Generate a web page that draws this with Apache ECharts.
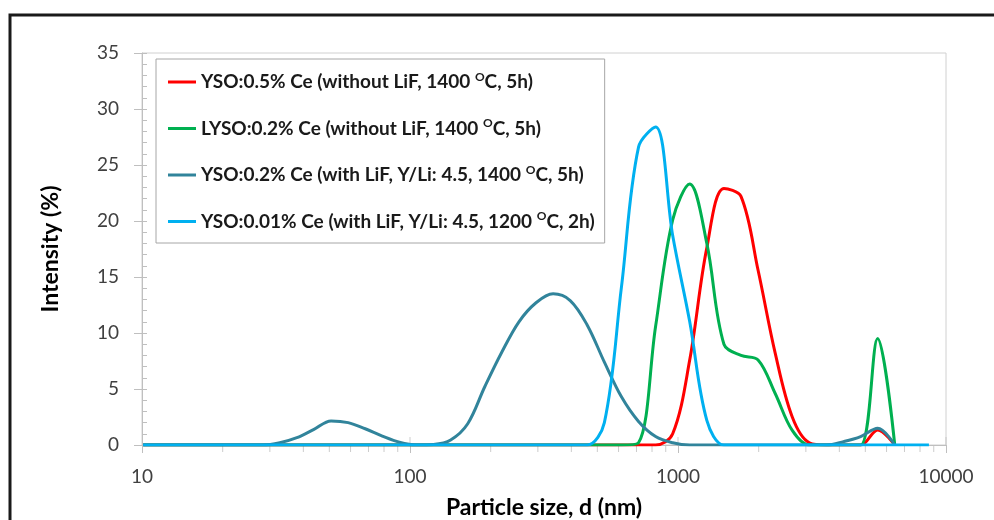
<!DOCTYPE html>
<html>
<head>
<meta charset="utf-8">
<script src="https://cdn.jsdelivr.net/npm/echarts@6/dist/echarts.min.js"></script>
<style>
  html, body { margin: 0; padding: 0; background: #fff; }
  #chart { width: 994px; height: 520px; }
</style>
</head>
<body>
<div id="chart"></div>
<script>
// size bins (nm)
var sizeBins = [10.1, 11.7, 13.54, 15.69, 18.17, 21.04, 24.36, 28.21, 32.67, 37.84,
  43.82, 50.75, 58.77, 68.06, 78.82, 91.28, 105.7, 122.4, 141.8, 164.2,
  190.1, 220.2, 255.0, 295.3, 342.0, 396.1, 458.7, 531.2, 615.1, 712.4,
  825.0, 955.4, 1106, 1281, 1484, 1718, 1990, 2305, 2669, 3091,
  3580, 4145, 4801, 5560, 6439, 7456, 8635]

var seriesNames = [
  'YSO:0.5% Ce (without LiF, 1400 °C, 5h)',
  'LYSO:0.2% Ce (without LiF, 1400 °C, 5h)',
  'YSO:0.2% Ce (with LiF, Y/Li: 4.5, 1400 °C, 5h)',
  'YSO:0.01% Ce (with LiF, Y/Li: 4.5, 1200 °C, 2h)'
]
var seriesColors = ['#ff0000', '#00b050', '#31849b', '#00b0f0']

var yso05 = [0, 0, 0, 0, 0, 0, 0, 0, 0, 0,
  0, 0, 0, 0, 0, 0, 0, 0, 0, 0,
  0, 0, 0, 0, 0, 0, 0, 0, 0, 0,
  0, 1.0, 7.6, 17.6, 22.9, 22.2, 15.6, 8.2, 2.5, 0.2,
  0, 0, 0, 1.35, 0]
var lyso02 = [0, 0, 0, 0, 0, 0, 0, 0, 0, 0,
  0, 0, 0, 0, 0, 0, 0, 0, 0, 0,
  0, 0, 0, 0, 0, 0, 0, 0, 0, 0.2,
  10.6, 20.1, 23.3, 18.0, 9.0, 8.0, 7.6, 4.6, 1.3, 0,
  0, 0, 0, 9.5, 0]
var yso02LiF = [0, 0, 0, 0, 0, 0, 0, 0, 0.2, 0.65,
  1.4, 2.15, 2.0, 1.45, 0.8, 0.25, 0, 0.05, 0.45, 1.9,
  5.2, 8.3, 11.0, 12.7, 13.5, 12.9, 10.7, 7.4, 4.3, 2.1,
  0.75, 0.2, 0, 0, 0, 0, 0, 0, 0, 0,
  0, 0.3, 0.75, 1.5, 0]
var yso001LiF = [0, 0, 0, 0, 0, 0, 0, 0, 0, 0,
  0, 0, 0, 0, 0, 0, 0, 0, 0, 0,
  0, 0, 0, 0, 0, 0, 0, 2.0, 14.1, 26.6,
  28.4, 18.7, 11.0, 2.2, 0, 0, 0, 0, 0, 0,
  0, 0, 0, 0, 0, 0, 0]

var xMinorTicks = [20, 30, 40, 50, 60, 70, 80, 90, 200, 300, 400, 500, 600, 700, 800, 900,
  2000, 3000, 4000, 5000, 6000, 7000, 8000, 9000]
var xMajorTicks = [100, 1000, 10000]

var font = 'Lato, "Open Sans", sans-serif'
var axisGray = '#bfbfbf'

function pairs(vals) {
  return vals.map(function (v, i) { return [sizeBins[i], v] })
}

var chart = echarts.init(document.getElementById('chart'))

var lineSeries = [yso05, lyso02, yso02LiF, yso001LiF].map(function (vals, i) {
  return {
    name: seriesNames[i],
    type: 'line',
    symbol: 'none',
    smooth: 0.35,
    data: pairs(vals),
    lineStyle: { width: 3, color: seriesColors[i] },
    itemStyle: { color: seriesColors[i] },
    z: 3 + i
  }
})

chart.setOption({
  backgroundColor: '#ffffff',
  animation: false,
  graphic: [{
    type: 'rect',
    shape: { x: 10, y: 15, width: 1100, height: 1000 },
    style: { fill: null, stroke: '#1a1a1a', lineWidth: 3 },
    silent: true
  }],
  grid: {
    left: 142, right: 48, top: 53, bottom: 75,
    outerBoundsMode: 'none',
    show: true, borderColor: '#d0d0d0', borderWidth: 1
  },
  legend: {
    data: seriesNames,
    orient: 'vertical',
    left: 156, top: 59,
    padding: [12, 10, 12, 12],
    icon: 'rect',
    itemWidth: 28, itemHeight: 3, itemGap: 26,
    borderColor: '#a6a6a6', borderWidth: 1,
    backgroundColor: '#ffffff',
    formatter: function (name) {
      var p = name.split('°')
      return '{t|' + p[0] + '}{s|O}{t|' + p[1] + '}'
    },
    textStyle: {
      rich: {
        t: { fontFamily: font, fontSize: 19, fontWeight: 'bold', color: '#1a1a1a', lineHeight: 22 },
        s: { fontFamily: font, fontSize: 12, fontWeight: 'bold', color: '#1a1a1a', lineHeight: 14, verticalAlign: 'top' }
      }
    }
  },
  xAxis: {
    type: 'log', logBase: 10, min: 10, max: 10000,
    name: 'Particle size, d (nm)',
    nameLocation: 'middle', nameGap: 51,
    nameTextStyle: { fontFamily: font, fontSize: 23, fontWeight: 'bold', color: '#000' },
    axisLine: { show: true, lineStyle: { color: axisGray } },
    axisTick: { show: true, length: 8, lineStyle: { color: axisGray } },
    axisLabel: {
      fontFamily: font, fontSize: 19, color: '#404040', margin: 22,
      formatter: function (v) { return String(v) }
    },
    splitLine: { show: false }
  },
  yAxis: [{
    type: 'value', min: 0, max: 35, interval: 5,
    name: 'Intensity (%)',
    nameLocation: 'middle', nameGap: 80,
    nameTextStyle: { fontFamily: font, fontSize: 23, fontWeight: 'bold', color: '#000' },
    axisLine: { show: true, lineStyle: { color: axisGray } },
    axisTick: { show: true, length: 8, lineStyle: { color: axisGray } },
    axisLabel: { fontFamily: font, fontSize: 19, color: '#404040', margin: 23 },
    splitLine: { show: false }
  }, {
    type: 'value', min: 0, max: 35, interval: 5, position: 'left',
    axisLine: { show: false },
    axisTick: { show: true, inside: true, length: 5, lineStyle: { color: axisGray } },
    minorTick: { show: true, splitNumber: 5, length: 5, lineStyle: { color: axisGray } },
    axisLabel: { show: false },
    splitLine: { show: false }
  }],
  series: [{
    type: 'scatter', silent: true, clip: false, z: 1,
    data: xMinorTicks.map(function (x) { return [x, 0] }),
    symbol: 'rect', symbolSize: [1, 7], symbolOffset: [0, 3.5],
    itemStyle: { color: axisGray }
  }, {
    type: 'scatter', silent: true, clip: false, z: 1,
    data: xMajorTicks.map(function (x) { return [x, 0] }),
    symbol: 'rect', symbolSize: [1, 8], symbolOffset: [0, -4],
    itemStyle: { color: axisGray }
  }].concat(lineSeries)
})
</script>
</body>
</html>
